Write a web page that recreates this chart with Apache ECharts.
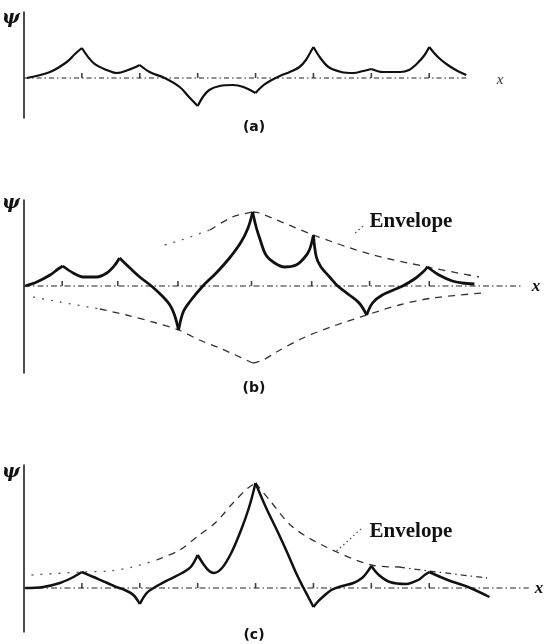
<!DOCTYPE html>
<html>
<head>
<meta charset="utf-8">
<script src="https://cdn.jsdelivr.net/npm/echarts@6/dist/echarts.min.js"></script>
<style>
  html, body { margin: 0; padding: 0; background: #fff; }
  #chart { width: 545px; height: 644px; }
</style>
</head>
<body>
<div id="chart"></div>
<script>
// x in lattice spacings from the psi axis, psi in arbitrary units.
// Each wavefunction is stored as arcs between neighbouring sites (cusps at the sites).

// ---- (a) ----
const sitesA = [1, 2, 3, 4, 5, 6, 7];
const baselineA = [[0, 0], [7.64, 0]];
const waveA = [
  [[0.05, 0], [0.45, 0.6], [0.74, 1.6], [0.88, 2.4], [1, 3.0]],
  [[1, 3.0], [1.2, 1.5], [1.43, 0.8], [1.6, 0.5], [1.8, 0.8], [2, 1.3]],
  [[2, 1.3], [2.17, 0.6], [2.43, 0], [2.69, -0.9], [2.85, -1.9], [3, -2.8]],
  [[3, -2.8], [3.09, -1.9], [3.2, -1.2], [3.38, -0.8], [3.61, -0.7], [3.79, -0.9], [4, -1.5]],
  [[4, -1.5], [4.14, -0.7], [4.28, -0.2], [4.42, 0.2], [4.59, 0.6], [4.76, 1.1], [4.87, 1.8], [4.95, 2.6], [5, 3.1]],
  [[5, 3.1], [5.12, 2.0], [5.26, 1.1], [5.48, 0.6], [5.69, 0.5], [5.86, 0.7], [6, 0.9]],
  [[6, 0.9], [6.2, 0.6], [6.5, 0.6], [6.65, 0.8], [6.8, 1.5], [6.92, 2.3], [7, 3.1]],
  [[7, 3.1], [7.15, 2.1], [7.32, 1.3], [7.49, 0.7], [7.64, 0.3]]
];

// ---- (b) ----
const sitesB = [0.66, 1.62, 2.66, 3.93, 4.97, 5.97, 7.0];
const baselineB = [[0, 0], [8.6, 0]];
const waveB = [
  [[0.02, 0], [0.22, 0.4], [0.45, 1.1], [0.59, 1.7], [0.67, 2.0]],
  [[0.67, 2.0], [0.85, 1.3], [1.02, 0.9], [1.25, 0.9], [1.43, 1.3], [1.57, 2.1], [1.65, 2.8]],
  [[1.65, 2.8], [1.83, 1.8], [2.0, 0.9], [2.2, 0], [2.37, -0.9], [2.52, -1.9], [2.6, -2.9], [2.67, -4.4]],
  [[2.67, -4.4], [2.75, -2.6], [2.86, -1.6], [3.09, 0], [3.32, 1.3], [3.55, 2.8], [3.75, 4.4], [3.87, 5.8], [3.95, 7.4]],
  [[3.95, 7.4], [4.01, 5.9], [4.07, 4.8], [4.18, 3.1], [4.33, 2.3], [4.5, 1.9], [4.7, 2.1], [4.84, 2.8], [4.93, 3.6], [5.0, 5.1]],
  [[5.0, 5.1], [5.05, 2.9], [5.13, 1.9], [5.28, 0.9], [5.42, 0], [5.62, -0.9], [5.79, -1.7], [5.92, -2.9]],
  [[5.92, -2.9], [6.02, -1.7], [6.19, -0.9], [6.54, 0], [6.77, 0.8], [6.91, 1.5], [6.97, 1.9]],
  [[6.97, 1.9], [7.17, 1.1], [7.4, 0.5], [7.57, 0.3], [7.78, 0.2]]
];
// envelope: faint dotted stretches and dashed stretches
const envDottedB = [
  [[2.43, 4.1], [2.72, 4.6], [3.21, 5.6]],
  [[0.16, -1.1], [0.62, -1.6], [1.31, -2.3]]
];
const envDashedB = [
  [[3.21, 5.6], [3.6, 6.9], [3.95, 7.4]],
  [[3.95, 7.4], [4.07, 7.3], [5.0, 5.1], [5.97, 3.2], [6.97, 1.9], [7.86, 0.9]],
  [[1.31, -2.3], [1.77, -2.9], [2.29, -3.7], [2.67, -4.4], [3.03, -5.4], [3.38, -6.2], [3.95, -7.7]],
  [[3.95, -7.7], [4.13, -7.4], [4.36, -6.6], [4.82, -5.2], [5.3, -4.1], [5.92, -2.9], [6.48, -1.9], [7.06, -1.2], [7.92, -0.7]]
];
const leaderB = [[5.72, 5.3], [5.86, 6.0]];

// ---- (c) ----
const sitesC = [1, 2, 3, 4, 5, 6, 7];
const baselineC = [[0, 0], [8.72, 0]];
const waveC = [
  [[0.02, 0], [0.33, 0.1], [0.62, 0.5], [0.82, 1.0], [1, 1.6]],
  [[1, 1.6], [1.2, 1.1], [1.44, 0.5], [1.59, 0.1], [1.74, -0.2], [1.89, -0.7], [2, -1.6]],
  [[2, -1.6], [2.12, -0.5], [2.24, 0], [2.49, 0.8], [2.73, 1.5], [2.88, 2.1], [3, 3.3]],
  [[3, 3.3], [3.11, 2.3], [3.2, 1.7], [3.28, 1.5], [3.42, 2.0], [3.58, 3.5], [3.75, 5.8], [3.89, 8.1], [4, 10.5]],
  [[4, 10.5], [4.1, 9.1], [4.2, 7.8], [4.4, 5.4], [4.55, 3.5], [4.7, 1.5], [4.82, 0.1], [4.92, -1.0], [5, -1.9]],
  [[5, -1.9], [5.07, -1.4], [5.16, -0.9], [5.31, -0.2], [5.5, 0.2], [5.69, 0.5], [5.84, 1.0], [5.93, 1.6], [6, 2.2]],
  [[6, 2.2], [6.13, 1.3], [6.32, 0.6], [6.6, 0.4], [6.81, 0.8], [6.92, 1.3], [7, 1.6]],
  [[7, 1.6], [7.32, 0.8], [7.67, 0.1], [8.04, -0.9]]
];
const envDottedC = [
  [[0.13, 1.3], [1, 1.6], [1.48, 1.7], [1.88, 2.1], [2.29, 2.8]]
];
const envDashedC = [
  [[2.29, 2.8], [2.69, 3.8], [3.03, 5.3], [3.32, 6.6], [3.61, 8.5], [3.87, 10.0], [4, 10.5]],
  [[4, 10.5], [4.24, 8.8], [4.64, 6.1], [5.22, 4.1], [6, 2.3], [6.48, 2.1]]
];
const envDashDotC = [
  [[6.48, 2.1], [7, 1.7], [8, 1.0]]
];
const leaderC = [[5.4, 3.7], [5.84, 6.0]];

const panelLabels = ['(a)', '(b)', '(c)'];
const envelopeLabel = 'Envelope';

// ---- layout ----
const UNIT = 58;           // pixels per lattice spacing
const XMAX = 9;
const panels = [
  { top: 12,  height: 106, ymin: -4.0, ymax: 6.6 },
  { top: 200, height: 173, ymin: -8.7, ymax: 8.6 },
  { top: 465, height: 167, ymin: -4.4, ymax: 12.3 }
];

const INK = '#111';
const series = [];

function addBaseline(i, data, pattern) {
  series.push({
    type: 'line', xAxisIndex: i, yAxisIndex: i, data: data,
    showSymbol: false, silent: true, z: 1,
    lineStyle: { color: '#222', width: 1, type: pattern }
  });
}
function addTicks(i, sites) {
  series.push({
    type: 'scatter', xAxisIndex: i, yAxisIndex: i,
    data: sites.map(s => [s, 0]), symbol: 'rect', symbolSize: [1.6, 5],
    symbolOffset: [0, -2.5], itemStyle: { color: '#111' }, silent: true, z: 2
  });
}
function addArcs(i, arcs, style, smooth) {
  arcs.forEach(arc => series.push({
    type: 'line', xAxisIndex: i, yAxisIndex: i, data: arc,
    smooth: smooth, showSymbol: false, silent: true, z: 3,
    lineStyle: style
  }));
}

const waveStyleA = { color: INK, width: 2.2 };
const waveStyleB = { color: INK, width: 2.8 };
const waveStyleC = { color: INK, width: 2.5 };
const envStyle = { color: '#333', width: 1.3, type: [7, 6] };
const envDotStyle = { color: '#555', width: 1.3, type: [2, 7] };
const envDashDotStyle = { color: '#333', width: 1.3, type: [6, 4, 1.5, 4] };
const leaderStyle = { color: '#444', width: 1.2, type: [1.5, 3] };

addBaseline(0, baselineA, [5, 3, 1.5, 3]);
addTicks(0, sitesA);
addArcs(0, waveA, waveStyleA, 0.35);

addBaseline(1, baselineB, [6, 3, 1.5, 3]);
addTicks(1, sitesB);
addArcs(1, envDottedB, envDotStyle, 0.3);
addArcs(1, envDashedB, envStyle, 0.3);
addArcs(1, [leaderB], leaderStyle, false);
addArcs(1, waveB, waveStyleB, 0.35);

addBaseline(2, baselineC, [6, 3, 1.5, 3]);
addTicks(2, sitesC);
addArcs(2, envDottedC, envDotStyle, 0.3);
addArcs(2, envDashedC, envStyle, 0.3);
addArcs(2, envDashDotC, envDashDotStyle, 0.3);
addArcs(2, [leaderC], leaderStyle, false);
addArcs(2, waveC, waveStyleC, 0.35);

const grids = panels.map(p => ({ left: 24, top: p.top, width: UNIT * XMAX, height: p.height, containLabel: false }));
const xAxes = panels.map((p, i) => ({
  type: 'value', gridIndex: i, min: 0, max: XMAX,
  axisLine: { show: false }, axisTick: { show: false }, axisLabel: { show: false }, splitLine: { show: false }
}));
const yAxes = panels.map((p, i) => ({
  type: 'value', gridIndex: i, min: p.ymin, max: p.ymax,
  axisLine: { show: true, onZero: false, lineStyle: { color: '#111', width: 1.5 } },
  axisTick: { show: false }, axisLabel: { show: false }, splitLine: { show: false }
}));

function text(str, x, y, font, fill) {
  return { type: 'text', x: x, y: y, silent: true, z: 10,
    style: { text: str, font: font, fill: fill || '#111', align: 'center', verticalAlign: 'middle' } };
}
const psiFont = 'italic bold 19px "DejaVu Serif"';
const xFont = 'italic bold 17px "Liberation Serif"';
const tagFont = 'bold 14px "DejaVu Sans"';
const envFont = 'bold 21px "Liberation Serif"';

const graphics = [
  text('ψ', 11, 18, psiFont), text('ψ', 11, 203, psiFont), text('ψ', 11, 472, psiFont),
  text('x', 500, 80, 'italic 15px "Liberation Serif"', '#333'),
  text('x', 536, 287, xFont), text('x', 539, 589, xFont),
  text(panelLabels[0], 254, 127, tagFont),
  text(panelLabels[1], 254, 388, tagFont),
  text(panelLabels[2], 254, 635, tagFont),
  text(envelopeLabel, 411, 222, envFont),
  text(envelopeLabel, 411, 532, envFont)
];

const chart = echarts.init(document.getElementById('chart'), null, { renderer: 'canvas' });
chart.setOption({
  animation: false,
  backgroundColor: '#fff',
  grid: grids,
  xAxis: xAxes,
  yAxis: yAxes,
  series: series,
  graphic: graphics
});
</script>
</body>
</html>
